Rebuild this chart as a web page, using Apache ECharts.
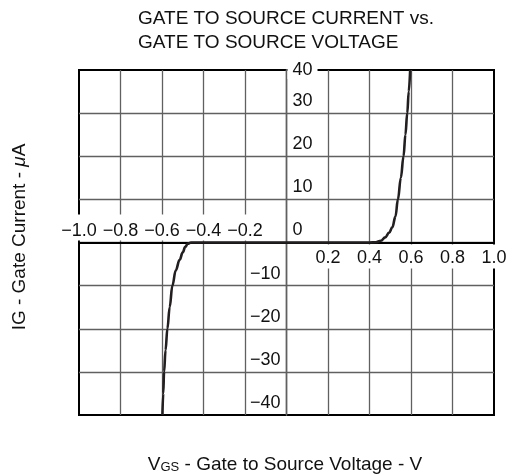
<!DOCTYPE html>
<html>
<head>
<meta charset="utf-8">
<script src="https://cdn.jsdelivr.net/npm/echarts@6/dist/echarts.min.js"></script>
<style>
  html, body { margin: 0; padding: 0; background: #fff; }
  #chart { width: 506px; height: 474px; }
</style>
</head>
<body>
<div id="chart"></div>
<script>
// gate voltage (V) and gate current (uA)
var vgs = [-0.598, -0.594, -0.59, -0.583, -0.574, -0.563, -0.55, -0.534, -0.515, -0.5, -0.488, -0.476, -0.46,
  -0.2, 0, 0.2, 0.4, 0.43, 0.455, 0.476, 0.495, 0.51, 0.525, 0.537, 0.551, 0.564, 0.573, 0.582, 0.589, 0.596];
var ig = [-40, -35, -30, -25, -20, -15, -10, -6.5, -4, -2.3, -1, -0.3, 0,
  0, 0, 0, 0, 0.05, 0.4, 1.2, 2.3, 3.5, 6, 10, 15, 20, 25, 30, 35, 40];

var xRange = [-1, 1];
var xStep = 0.2;
var yRange = [-40, 40];
var yStep = 10;

var titleText = 'GATE TO SOURCE CURRENT vs.\nGATE TO SOURCE VOLTAGE';
var FONT = '"Liberation Sans", Arial, Helvetica, sans-serif';
var GRID_COLOR = '#606060';

// plot box
var G = { left: 79, right: 12, top: 70, bottom: 59 };
var plotW = 506 - G.left - G.right;
var plotH = 474 - G.top - G.bottom;
// shift the axes from the box edge onto the zero lines
var xAxisShift = -plotH * (0 - yRange[0]) / (yRange[1] - yRange[0]);
var yAxisShift = -plotW * (0 - xRange[0]) / (xRange[1] - xRange[0]);

function fmtX(v) {
  var s = Math.abs(v).toFixed(1);
  return v < 0 ? '\u2212' + s : s;
}

var chart = echarts.init(document.getElementById('chart'), null, { renderer: 'canvas' });

var points = vgs.map(function (v, i) { return [v, ig[i]]; });

var option = {
  backgroundColor: '#fff',
  animation: false,
  title: {
    text: titleText,
    left: 138,
    top: 7,
    padding: 0,
    textStyle: { fontSize: 19, fontWeight: 'normal', lineHeight: 24, color: '#111', fontFamily: FONT }
  },
  grid: {
    left: G.left, right: G.right, top: G.top, bottom: G.bottom,
    show: true,
    borderColor: '#000',
    borderWidth: 2,
    backgroundColor: 'transparent',
    outerBoundsMode: 'none',
    containLabel: false
  },
  xAxis: [{
    type: 'value',
    min: xRange[0], max: xRange[1], interval: xStep,
    position: 'bottom',
    offset: xAxisShift,
    axisLine: { onZero: false, lineStyle: { color: '#000', width: 2 } },
    axisTick: { show: false },
    splitLine: { show: true, showMinLine: false, showMaxLine: false, lineStyle: { color: GRID_COLOR, width: 1.3 } },
    axisLabel: {
      inside: true,
      margin: 2,
      fontFamily: FONT,
      fontSize: 18,
      color: '#111',
      formatter: function (v) { return v < -1e-9 ? '{a|' + fmtX(v) + '}' : ''; },
      rich: { a: { fontSize: 18, fontFamily: FONT, color: '#111', backgroundColor: '#fff', padding: [8, 1, 0, 1] } }
    }
  }, {
    type: 'value',
    min: xRange[0], max: xRange[1], interval: xStep,
    position: 'bottom',
    offset: xAxisShift,
    axisLine: { onZero: false, lineStyle: { color: '#000', width: 2 } },
    axisTick: { show: false },
    splitLine: { show: false },
    axisLabel: {
      inside: false,
      margin: 2,
      fontFamily: FONT,
      fontSize: 18,
      color: '#111',
      formatter: function (v) { return v > 1e-9 ? '{b|' + fmtX(v) + '}' : ''; },
      rich: { b: { fontSize: 18, fontFamily: FONT, color: '#111', backgroundColor: '#fff', padding: [5, 1, 1, 1] } }
    }
  }],
  yAxis: [{
    type: 'value',
    min: yRange[0], max: yRange[1], interval: yStep,
    position: 'left',
    offset: yAxisShift,
    axisLine: { onZero: false, lineStyle: { color: GRID_COLOR, width: 1.3 } },
    axisTick: { show: false },
    splitLine: { show: true, showMinLine: false, showMaxLine: false, lineStyle: { color: GRID_COLOR, width: 1.3 } },
    axisLabel: {
      inside: true,
      margin: 1,
      fontFamily: FONT,
      fontSize: 18,
      color: '#111',
      formatter: function (v) {
        if (v < 0) return '';
        if (v === yRange[1]) return '{t|' + v + '}';
        return '{p|' + v + '}';
      },
      rich: {
        p: { fontSize: 18, fontFamily: FONT, color: '#111', padding: [0, 0, 25, 5] },
        t: { fontSize: 18, fontFamily: FONT, color: '#111', backgroundColor: '#fff', padding: [0, 5, 0, 5] }
      }
    }
  }, {
    type: 'value',
    min: yRange[0], max: yRange[1], interval: yStep,
    position: 'left',
    offset: yAxisShift,
    axisLine: { onZero: false, lineStyle: { color: GRID_COLOR, width: 1.3 } },
    axisTick: { show: false },
    splitLine: { show: false },
    axisLabel: {
      inside: false,
      margin: 6,
      fontFamily: FONT,
      fontSize: 18,
      color: '#111',
      formatter: function (v) { return v < 0 ? '{n|\u2212' + (-v) + '}' : ''; },
      rich: { n: { fontSize: 18, fontFamily: FONT, color: '#111', padding: [0, 0, 24, 0] } }
    }
  }],
  graphic: [{
    type: 'text',
    x: 285, y: 463,
    style: {
      text: '{v|V}{s|GS}{v| - Gate to Source Voltage - V}',
      align: 'center',
      verticalAlign: 'middle',
      rich: {
        v: { fontSize: 19, fontFamily: FONT, fill: '#111', verticalAlign: 'bottom', lineHeight: 22 },
        s: { fontSize: 13, fontFamily: FONT, fill: '#111', verticalAlign: 'bottom', lineHeight: 22 }
      }
    }
  }, {
    type: 'text',
    x: 20, y: 237,
    rotation: Math.PI / 2,
    style: {
      text: '{v|IG - Gate Current - }{i|\u03bc}{v|A}',
      align: 'center',
      verticalAlign: 'middle',
      rich: {
        v: { fontSize: 19, fontFamily: FONT, fill: '#111' },
        i: { fontSize: 19, fontFamily: FONT, fill: '#111', fontStyle: 'italic' }
      }
    }
  }],
  series: [{
    type: 'line',
    xAxisIndex: 0,
    yAxisIndex: 0,
    data: points,
    showSymbol: false,
    smooth: 0.4,
    smoothMonotone: 'x',
    lineStyle: { color: '#231f20', width: 2.6 },
    z: 5
  }]
};

chart.setOption(option);
</script>
</body>
</html>
